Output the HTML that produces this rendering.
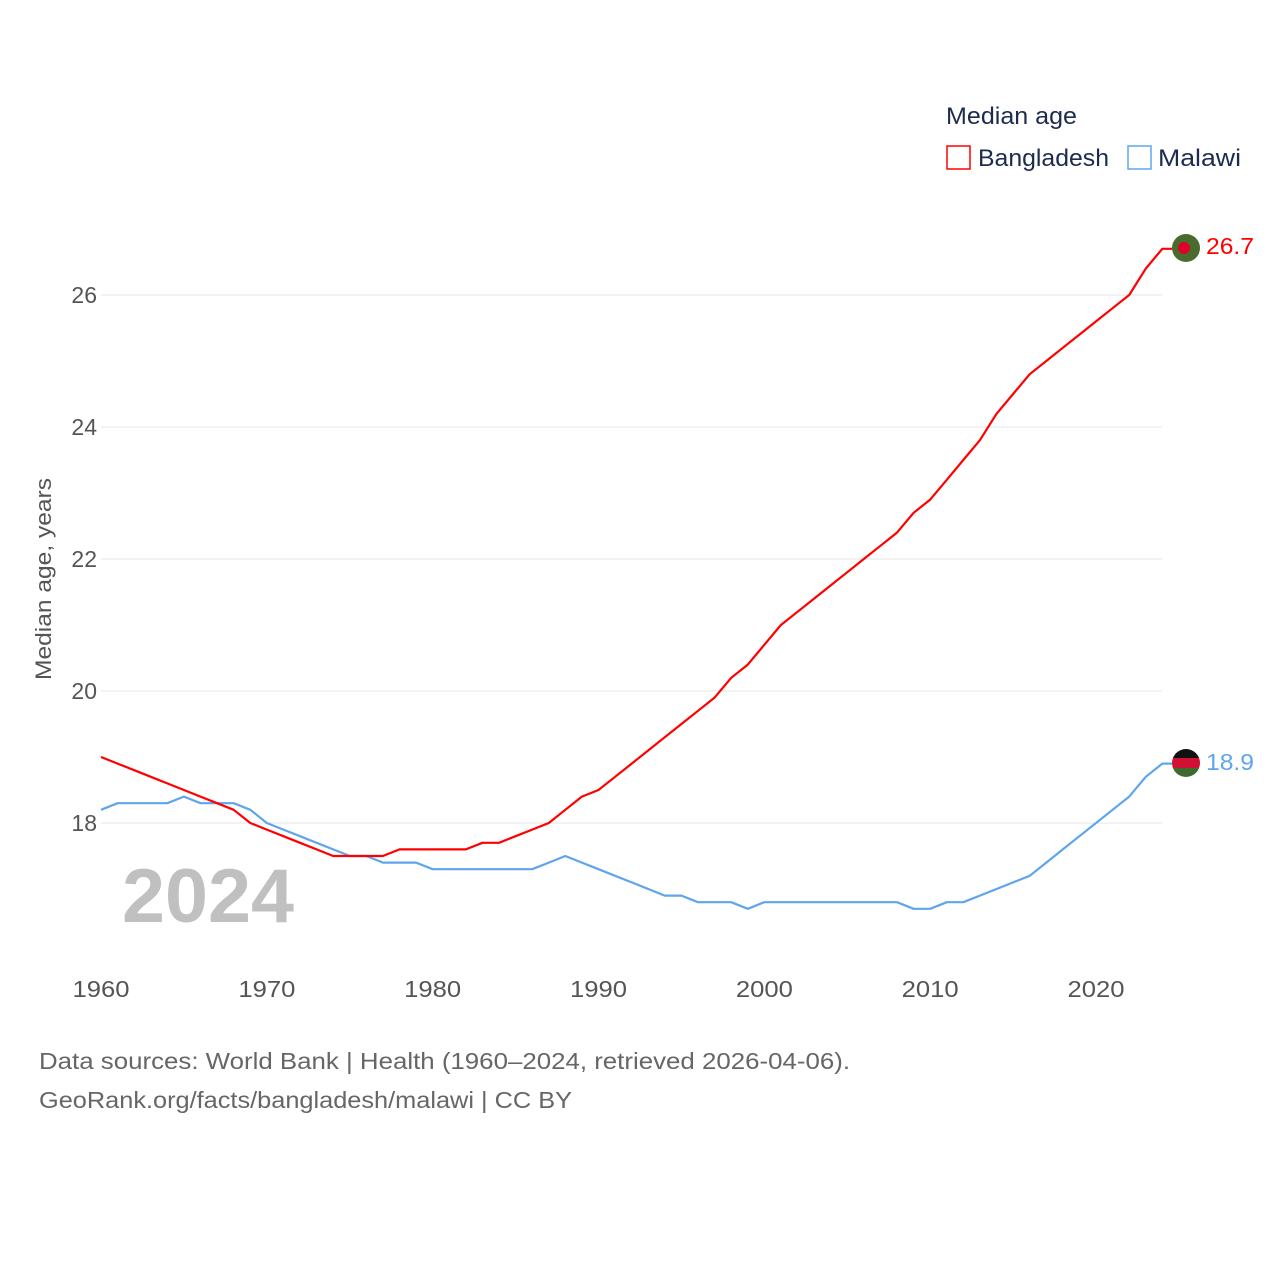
<!DOCTYPE html>
<html><head><meta charset="utf-8"><style>
body{margin:0;background:#fff;width:1280px;height:1280px;overflow:hidden;font-family:"Liberation Sans",sans-serif}
svg{position:absolute;left:0;top:0}
</style></head><body>
<svg id="chart" width="1280" height="1280" xmlns="http://www.w3.org/2000/svg" font-family="Liberation Sans, sans-serif">
<defs>
<clipPath id="c1"><circle cx="1186" cy="248" r="14"/></clipPath>
<clipPath id="c2"><circle cx="1186" cy="763" r="14"/></clipPath>
</defs>
<g id="grid"></g>
<g id="yticks"></g>
<g id="xticks"></g>
<text x="122" y="922" font-size="76" font-weight="bold" fill="#c0c0c0" textLength="172" lengthAdjust="spacingAndGlyphs">2024</text>
<text transform="translate(51,579) rotate(-90)" text-anchor="middle" font-size="22" fill="#555" textLength="202" lengthAdjust="spacingAndGlyphs">Median age, years</text>
<g id="series"></g>
<g clip-path="url(#c1)"><rect x="1170" y="232" width="32" height="32" fill="#4a6b2e"/><circle cx="1184" cy="248" r="6" fill="#e0002a"/></g>
<g clip-path="url(#c2)"><rect x="1170" y="747" width="32" height="11" fill="#111"/><rect x="1170" y="758" width="32" height="10" fill="#d21034"/><rect x="1170" y="768" width="32" height="11" fill="#3e6a2e"/></g>
<text x="1206" y="254" font-size="23" fill="#ff0000" textLength="48" lengthAdjust="spacingAndGlyphs">26.7</text>
<text x="1206" y="770" font-size="23" fill="#5ea5ec" textLength="48" lengthAdjust="spacingAndGlyphs">18.9</text>
<text x="946" y="124" font-size="24" fill="#1d2b4f" textLength="131" lengthAdjust="spacingAndGlyphs">Median age</text>
<g><rect x="947" y="146" width="23" height="23" fill="none" stroke="#ff0000" stroke-width="1.5"/><text x="978" y="166" font-size="24" fill="#1d2b4f" textLength="131" lengthAdjust="spacingAndGlyphs">Bangladesh</text></g>
<g><rect x="1128" y="146" width="23" height="23" fill="none" stroke="#5ea5ec" stroke-width="1.5"/><text x="1158" y="166" font-size="24" fill="#1d2b4f" textLength="83" lengthAdjust="spacingAndGlyphs">Malawi</text></g>
<text x="39" y="1069" font-size="23" fill="#666" textLength="811" lengthAdjust="spacingAndGlyphs">Data sources: World Bank | Health (1960–2024, retrieved 2026-04-06).</text>
<text x="39" y="1108" font-size="23" fill="#666" textLength="533" lengthAdjust="spacingAndGlyphs">GeoRank.org/facts/bangladesh/malawi | CC BY</text>
</svg>
<script>
const years=[];for(let y=1960;y<=2024;y++)years.push(y);
const bangladesh=[19.0,18.9,18.8,18.7,18.6,18.5,18.4,18.3,18.2,18.0,17.9,17.8,17.7,17.6,17.5,17.5,17.5,17.5,17.6,17.6,17.6,17.6,17.6,17.7,17.7,17.8,17.9,18.0,18.2,18.4,18.5,18.7,18.9,19.1,19.3,19.5,19.7,19.9,20.2,20.4,20.7,21.0,21.2,21.4,21.6,21.8,22.0,22.2,22.4,22.7,22.9,23.2,23.5,23.8,24.2,24.5,24.8,25.0,25.2,25.4,25.6,25.8,26.0,26.4,26.7];
const malawi=[18.2,18.3,18.3,18.3,18.3,18.4,18.3,18.3,18.3,18.2,18.0,17.9,17.8,17.7,17.6,17.5,17.5,17.4,17.4,17.4,17.3,17.3,17.3,17.3,17.3,17.3,17.3,17.4,17.5,17.4,17.3,17.2,17.1,17.0,16.9,16.9,16.8,16.8,16.8,16.7,16.8,16.8,16.8,16.8,16.8,16.8,16.8,16.8,16.8,16.7,16.7,16.8,16.8,16.9,17.0,17.1,17.2,17.4,17.6,17.8,18.0,18.2,18.4,18.7,18.9];
const yTicks=[18,20,22,24,26];
const xTicks=[1960,1970,1980,1990,2000,2010,2020];
const NS='http://www.w3.org/2000/svg';
const xs=y=>101+(y-1960)*(1096-101)/60;
const ys=v=>823-(v-18)*66;
function mk(tag,attrs,parent){const e=document.createElementNS(NS,tag);for(const k in attrs)e.setAttribute(k,attrs[k]);parent.appendChild(e);return e;}
const grid=document.getElementById('grid'),yt=document.getElementById('yticks'),xt=document.getElementById('xticks'),ser=document.getElementById('series');
yTicks.forEach(v=>{
  const l=mk('line',{x1:101,x2:1162,y1:ys(v),y2:ys(v),stroke:'#e6e6e6','stroke-width':1},grid);
  
  
  const t=mk('text',{x:97,y:ys(v)+8,'text-anchor':'end','font-size':23,fill:'#555'},yt);
  
  
  t.textContent=v;
});
xTicks.forEach(y=>{
  const t=mk('text',{x:xs(y),y:997,'text-anchor':'middle','font-size':23,fill:'#555',textLength:57,lengthAdjust:'spacingAndGlyphs'},xt);
  
  
  t.textContent=y;
});
function line(vals,color,name){
  let d=vals.map((v,i)=>(i?'L':'M')+xs(years[i]).toFixed(1)+','+ys(v).toFixed(1)).join(' ');
  d+=' L1172,'+ys(vals[vals.length-1]).toFixed(1);
  const p=mk('path',{d:d,fill:'none',stroke:color,'stroke-width':2.2,'stroke-linejoin':'round'},ser);
  
  
}
line(malawi,'#5ea5ec','malawi-line');
line(bangladesh,'#ff0000','bangladesh-line');
</script>
</body></html>
